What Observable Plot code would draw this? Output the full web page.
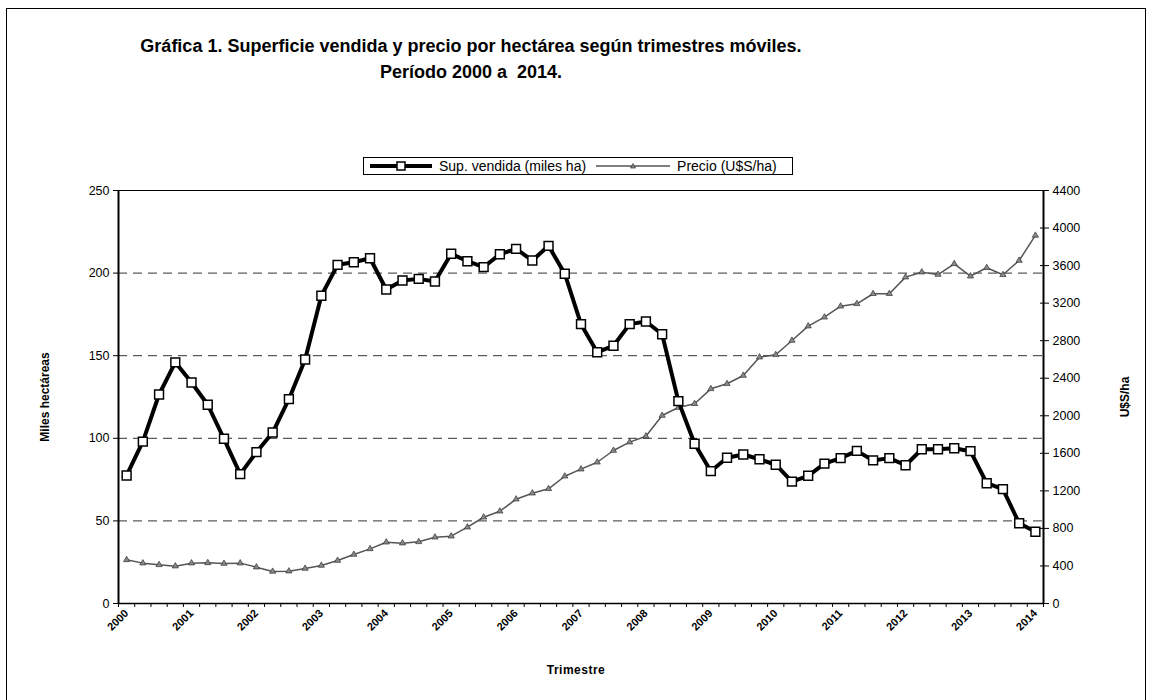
<!DOCTYPE html>
<html><head><meta charset="utf-8">
<script src="https://cdn.jsdelivr.net/npm/d3@7"></script>
<script src="https://cdn.jsdelivr.net/npm/@observablehq/plot@0.6"></script>
<style>
body{margin:0;background:#fff;font-family:"Liberation Sans",Arial,sans-serif;color:#000}
#wrap{position:relative;width:1153px;height:700px;overflow:hidden;background:#fff}
#border{position:absolute;left:6px;top:8px;width:1140px;height:720px;border:1px solid #000;box-sizing:border-box}
#title{position:absolute;left:0;top:33px;width:942px;text-align:center;font-weight:bold;font-size:18px;line-height:26px;white-space:nowrap}
#chart{position:absolute;left:0;top:0}
.ylab{position:absolute;font-weight:bold;font-size:12px;white-space:nowrap;transform:translate(-50%,-50%) rotate(-90deg)}
#xlab{position:absolute;left:576px;top:670px;transform:translate(-50%,-50%);font-weight:bold;font-size:12px;letter-spacing:0.5px}
#legend{position:absolute;left:363px;top:157px;width:430px;height:18px;border:1px solid #000;display:flex;align-items:center;font-size:14px;padding:0 0 0 4px;box-sizing:border-box;background:#fff}
</style></head>
<body>
<div id="wrap">
  <div id="border"></div>
  <div id="chart"></div>
  <div id="title">Gráfica 1. Superficie vendida y precio por hectárea según trimestres móviles.<br>Período 2000 a&nbsp; 2014.</div>
  <div id="legend">
    <svg width="66" height="12"><line x1="2" y1="6" x2="64" y2="6" stroke="#000" stroke-width="4"/><rect x="29" y="2" width="8" height="8" fill="#fff" stroke="#000" stroke-width="1.5"/></svg>
    <span style="margin-left:5px">Sup. vendida (miles ha)</span>
    <svg width="78" height="12" style="margin-left:8px"><line x1="2" y1="6" x2="76" y2="6" stroke="#555" stroke-width="1.5"/><path d="M39,3.5 L41.5,8 L36.5,8 Z" fill="#888" stroke="#333" stroke-width="0.7"/></svg>
    <span style="margin-left:5px">Precio (U$S/ha)</span>
  </div>
  <div class="ylab" style="left:45px;top:397px">Miles hectáreas</div>
  <div class="ylab" style="left:1125px;top:397px">U$S/ha</div>
  <div id="xlab">Trimestre</div>
</div>
<script>
// Trimestres móviles 2000 T1 … 2014 T1 (57)
const years = [2000,2001,2002,2003,2004,2005,2006,2007,2008,2009,2010,2011,2012,2013,2014];
const supVendida = [77.5,98,126.5,146,133.8,120.3,99.7,78.3,91.6,103.5,123.7,147.7,186.3,205,206.6,209,
  190.1,195.5,196.5,194.9,211.7,207.2,203.6,211.4,214.7,207.6,216.5,199.6,169.1,152.1,156,169.1,
  170.7,163,122.5,96.7,80.1,88.2,90.2,87.3,84,73.8,77.3,84.7,88,92.4,86.6,88,83.7,93.4,93.4,94,
  92.2,72.8,69.2,48.6,43.4];
const precio = [465,430,412,398,430,433,426,430,387,341,344,373,405,458,522,582,653,643,657,706,
  717,813,919,983,1111,1175,1222,1356,1431,1505,1630,1719,1782,2003,2088,2128,2287,2341,2429,2624,
  2650,2802,2955,3050,3167,3193,3300,3300,3477,3530,3505,3619,3487,3577,3502,3654,3921];
const leftTicks = [0,50,100,150,200,250];
const rightTicks = [0,400,800,1200,1600,2000,2400,2800,3200,3600,4000,4400];

const k = 250/4400;
const rows = supVendida.map((v,i)=>({i, sup:v, precio:precio[i]}));
const yearIdx = years.map((y,j)=>j*4);
const bounds = d3.range(0,58).map(i=>i-0.5);

const chart = Plot.plot({
  width:1153, height:700,
  marginLeft:118, marginRight:110, marginTop:190, marginBottom:97,
  style:{fontFamily:'"Liberation Sans",Arial,sans-serif', fontSize:"12px", color:"#000", background:"transparent"},
  x:{domain:[-0.5,56.5], axis:null},
  y:{domain:[0,250], axis:null},
  marks:[
    Plot.ruleY([50,100,150,200],{stroke:"#333",strokeWidth:1,strokeDasharray:"9,6"}),
    Plot.frame({stroke:"#000",strokeWidth:1}),
    Plot.ruleX([-0.5],{stroke:"#000",strokeWidth:2}),
    Plot.ruleX([56.5],{stroke:"#000",strokeWidth:2}),
    Plot.ruleY([0],{stroke:"#000",strokeWidth:1.5}),
    Plot.axisY({ticks:leftTicks, tickSize:5, tickPadding:4, label:null, fontSize:12.5}),
    Plot.axisY({anchor:"right", ticks:rightTicks.map(p=>p*k), tickFormat:d=>String(Math.round(d/k)), tickSize:5, tickPadding:4, label:null, fontSize:12.5}),
    Plot.axisY({anchor:"right", ticks:rightTicks.map(p=>p*k), tickFormat:()=>"", tickSize:4, dx:-4, label:null}),
    Plot.axisX({ticks:bounds, tickFormat:()=>"", tickSize:4, label:null}),
    Plot.axisX({ticks:yearIdx, tickFormat:i=>String(years[i/4]), tickSize:0, tickPadding:8, tickRotate:-45, label:null, fontSize:11, fontWeight:"bold"}),
    Plot.line(rows,{x:"i", y:d=>d.precio*k, stroke:"#555", strokeWidth:1.5}),
    Plot.dot(rows,{x:"i", y:d=>d.precio*k, symbol:"triangle", r:2.3, fill:"#888", stroke:"#333", strokeWidth:0.7}),
    Plot.line(rows,{x:"i", y:"sup", stroke:"#000", strokeWidth:4}),
    Plot.dot(rows,{x:"i", y:"sup", symbol:"square", r:5, fill:"#fff", stroke:"#000", strokeWidth:1.5})
  ]
});
document.getElementById("chart").appendChild(chart);
</script>
</body></html>
